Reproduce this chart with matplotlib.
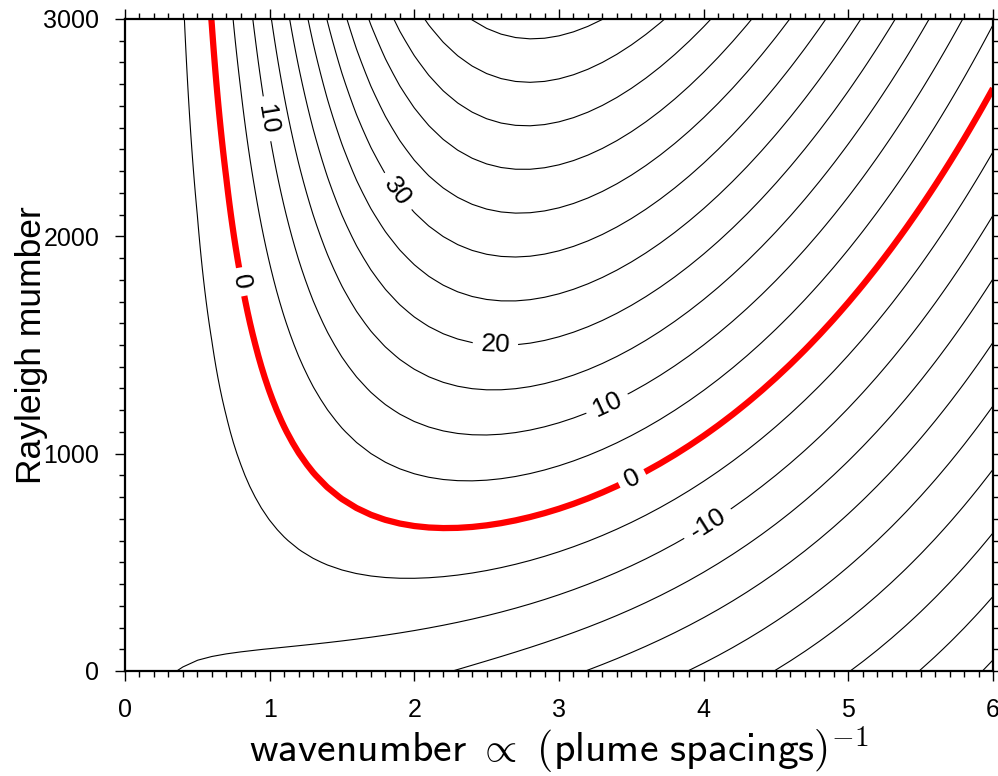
import numpy as np
import matplotlib
matplotlib.use("Agg")
import matplotlib.pyplot as plt
from matplotlib.ticker import MultipleLocator

# ---- data ----
k_values = np.arange(0.0, 6.0001, 0.1)          # wavenumber grid
ra_values = np.arange(0.0, 3000.01, 50.0)       # Rayleigh number grid
levels = np.arange(-50, 61, 5)                  # contour levels (growth rate)
label_levels = [-10, 0, 10, 20, 30]
label_positions = [(0.93, 2535), (1.85, 2190), (0.76, 1785), (2.56, 1500),
                   (3.32, 1247), (3.51, 879), (4.01, 695)]
x_ticks = [0, 1, 2, 3, 4, 5, 6]
y_ticks = [0, 1000, 2000, 3000]

# growth rate of free-slip Rayleigh-Benard convection
K, RA = np.meshgrid(k_values, ra_values)
q = K**2 + np.pi**2
sigma = RA * K**2 / q**2 - q

plt.rcParams['mathtext.fontset'] = 'cm'
plt.rcParams['contour.negative_linestyle'] = 'solid'
fig = plt.figure(figsize=(9.98, 7.76), dpi=100)
ax = fig.add_axes([125/998, 1-671/776, 868/998, 652/776])

other_levels = [lv for lv in levels if lv not in label_levels]
ax.contour(K, RA, sigma, levels=other_levels, colors='black', linewidths=0.8,
           linestyles='solid')
colors = ['red' if lv == 0 else 'black' for lv in label_levels]
lws = [4.5 if lv == 0 else 0.8 for lv in label_levels]
cs = ax.contour(K, RA, sigma, levels=label_levels, colors=colors, linewidths=lws,
                linestyles='solid')
ax.clabel(cs, manual=label_positions, inline=True,
          fontsize=19, colors='k', fmt='%d', inline_spacing=6)
for t in cs.labelTexts:
    t.set_fontfamily('Liberation Sans')

ax.set_xlim(0, 6)
ax.set_ylim(0, 3000)
ax.set_xticks(x_ticks)
ax.set_yticks(y_ticks)
ax.xaxis.set_minor_locator(MultipleLocator(0.1))
ax.yaxis.set_minor_locator(MultipleLocator(100))
ax.tick_params(which='both', direction='out', top=True, right=True, width=1.0)
ax.tick_params(which='major', length=7.5, labelsize=18)
ax.tick_params(axis='y', which='major', pad=11)
ax.tick_params(axis='x', which='major', pad=12)
ax.tick_params(which='minor', length=4.5)
for lab in ax.get_xticklabels() + ax.get_yticklabels():
    lab.set_fontfamily('Liberation Sans')
for s in ax.spines.values():
    s.set_linewidth(1.6)

ax.set_ylabel('Rayleigh mumber', fontsize=25.5, fontfamily='Liberation Sans')
ax.yaxis.set_label_coords(-0.089, 0.5)
ax.set_xlabel(r'$\mathsf{wavenumber}\ \propto\ \mathsf{(plume\ spacings)}^{-1}$',
              fontsize=30)
ax.xaxis.set_label_coords(0.5, -0.083)

fig.savefig('out.png', dpi=100)
